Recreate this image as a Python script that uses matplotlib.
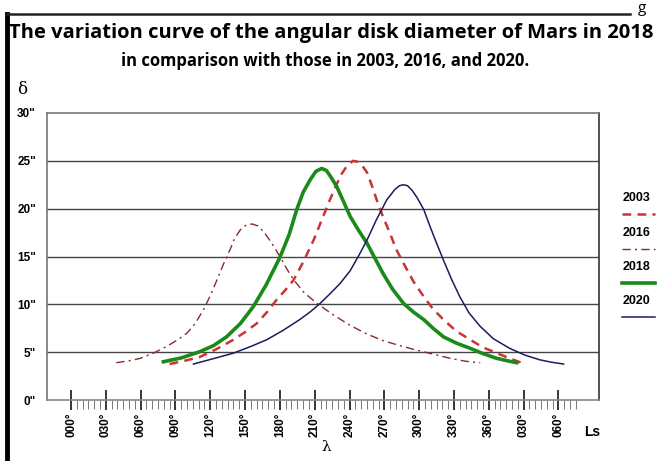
import numpy as np
import matplotlib
matplotlib.use("Agg")
import matplotlib.pyplot as plt
from matplotlib.lines import Line2D

# data: solar longitude Ls (deg, continuing past 360) and disk diameter (arcsec)
ls_2003 = [85, 98, 111, 125, 140, 150, 160, 169, 177, 184, 191.6, 200, 209, 216, 223, 228, 233, 238,
           243, 247, 251, 255, 259, 263.5, 269, 275, 280, 286.5, 295, 304, 312, 321, 332, 344, 355,
           367, 377, 388]
d_2003 = [3.76, 4.1, 4.5, 5.3, 6.3, 7.1, 8.0, 9.2, 10.45, 11.4, 12.5, 14.4, 16.7, 18.8, 20.9, 22.3,
          23.6, 24.5, 25.0, 24.9, 24.5, 23.8, 22.5, 20.9, 19.1, 17.4, 15.8, 14.3, 12.4, 10.8, 9.5,
          8.4, 7.2, 6.3, 5.5, 4.9, 4.4, 3.9]

ls_2016 = [39, 50, 59.5, 71, 82.5, 92, 100, 107, 114, 120, 125.6, 131, 137, 141, 146, 151, 156, 161,
           166, 173, 180, 186, 191.6, 201, 212, 226, 240.5, 255, 269, 283, 298, 312, 327, 340, 352.6]
d_2016 = [3.9, 4.1, 4.35, 4.9, 5.6, 6.3, 7.0, 8.0, 9.4, 10.9, 12.5, 14.1, 15.7, 16.9, 17.8, 18.3,
          18.4, 18.2, 17.6, 16.4, 15.0, 13.7, 12.6, 11.2, 10.1, 8.9, 7.8, 6.9, 6.2, 5.7, 5.2, 4.8,
          4.35, 4.05, 3.9]

ls_2018 = [79.6, 95, 111, 123, 134, 146, 157, 168, 180, 188, 194.5, 200, 206, 211, 216, 220, 224,
           229, 235, 240.5, 248, 255, 262, 269, 277, 286.5, 295, 304, 312, 321, 332, 344, 355, 367,
           376, 384]
d_2018 = [4.0, 4.4, 5.05, 5.7, 6.6, 8.0, 9.75, 12.0, 14.9, 17.3, 19.9, 21.7, 23.0, 23.9, 24.2, 24.0,
          23.3, 22.3, 20.7, 19.2, 17.7, 16.4, 14.8, 13.2, 11.6, 10.1, 9.2, 8.4, 7.5, 6.6, 5.95, 5.4,
          4.85, 4.35, 4.1, 3.9]

ls_2020 = [105.5, 122, 140, 155, 168.7, 183, 197, 206, 214.7, 224, 232, 240.5, 248, 255, 263, 272,
           279, 283, 286.5, 290, 294, 298, 304, 309.5, 315, 321, 328, 335, 343, 352.6, 364, 378, 391,
           404, 414, 424.5]
d_2020 = [3.76, 4.3, 4.9, 5.6, 6.3, 7.3, 8.4, 9.2, 10.1, 11.2, 12.2, 13.5, 15.1, 16.7, 18.8, 20.9,
          22.0, 22.4, 22.5, 22.4, 21.9, 21.2, 19.9, 18.1, 16.4, 14.6, 12.6, 10.8, 9.1, 7.7, 6.4, 5.4,
          4.7, 4.2, 3.95, 3.76]

years = ["2003", "2016", "2018", "2020"]
y_ticks = [0, 5, 10, 15, 20, 25, 30]
x_major = list(range(0, 421, 30))
x_labels = ["000", "030", "060", "090", "120", "150", "180", "210", "240",
            "270", "300", "330", "360", "030", "060"]

styles = {
    "2003": dict(color="#cc3333", lw=1.8, dashes=(3.5, 2.5)),
    "2016": dict(color="#8b2a2a", lw=1.0, dashes=(6, 3, 1.5, 3)),
    "2018": dict(color="#1a8a1a", lw=2.6, linestyle="-"),
    "2020": dict(color="#1c1c5c", lw=1.1, linestyle="-"),
}

fig = plt.figure(figsize=(6.6, 4.61), dpi=100)
ax = fig.add_axes([0.0712, 0.1323, 0.8364, 0.6226])

for yr, xs, ys in zip(years, [ls_2003, ls_2016, ls_2018, ls_2020], [d_2003, d_2016, d_2018, d_2020]):
    ax.plot(xs, ys, zorder=3, solid_joinstyle="round", **styles[yr])

# horizontal grid
for v in y_ticks[1:-1]:
    ax.axhline(v, color="#444444", lw=1.0, zorder=1)

ax.set_xlim(-20.7, 455)
ax.set_ylim(0, 30)

for s in ["left", "top"]:
    ax.spines[s].set_color("#777777")
ax.spines["right"].set_color("#333333")
ax.spines["bottom"].set_color("#888888")
for s in ax.spines.values():
    s.set_linewidth(1.2)

ax.set_yticks(y_ticks)
ax.set_yticklabels(['%d"' % v for v in y_ticks], fontweight="bold", fontsize=8.5,
                   family="Liberation Sans")
ax.tick_params(axis="y", length=0, pad=8)

ax.set_xticks(x_major)
ax.set_xticklabels([s + "\u00b0" for s in x_labels], rotation=90, fontweight="bold",
                   fontsize=8.5, family="Liberation Sans")
ax.set_xticks([v for v in range(0, 436, 5) if v % 30 != 0], minor=True)
ax.tick_params(axis="x", which="major", direction="inout", length=14, width=1.1,
               color="black", pad=2)
ax.tick_params(axis="x", which="minor", direction="out", length=6.5, width=0.7,
               color="#777777")

# titles and axis symbols
fig.text(0.502, 0.928, "The variation curve of the angular disk diameter of Mars in 2018",
         ha="center", va="center", fontsize=14.5, fontweight="bold", family="Open Sans")
fig.text(0.493, 0.868, "in comparison with those in 2003, 2016, and 2020.",
         ha="center", va="center", fontsize=12, fontweight="bold", family="Open Sans")
fig.text(0.033, 0.805, "\u03b4", ha="center", va="center", fontsize=12, family="DejaVu Serif")
fig.text(0.495, 0.03, "\u03bb", ha="center", va="center", fontsize=11, family="DejaVu Serif")
fig.text(0.897, 0.063, "Ls", ha="center", va="center", fontsize=10, fontweight="bold",
         family="Liberation Sans")

# legend drawn at the right edge
leg_y = [0.570, 0.494, 0.420, 0.347]
for yr, ty in zip(years, leg_y):
    fig.text(0.943, ty, yr, fontsize=9, fontweight="bold", ha="left", va="center",
             family="Liberation Sans")
    st = dict(styles[yr])
    fig.add_artist(Line2D([0.943, 0.993], [ty - 0.034, ty - 0.034], transform=fig.transFigure, **st))

# page border bits from the original scan
fig.add_artist(Line2D([0.011, 0.011], [0.0, 0.97], transform=fig.transFigure, color="black", lw=3.5))
fig.add_artist(Line2D([0.011, 0.955], [0.97, 0.97], transform=fig.transFigure, color="#222222", lw=1.8))
fig.text(0.972, 0.998, "g", fontsize=11, family="Open Sans", ha="center", va="top")

fig.savefig("out.png", dpi=100)
